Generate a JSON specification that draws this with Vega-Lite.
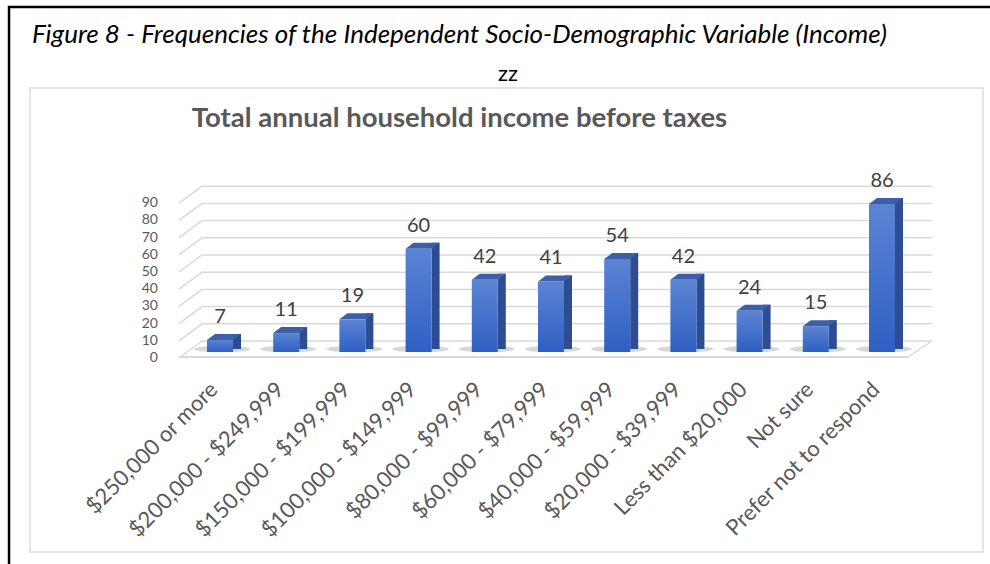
{
  "$schema": "https://vega.github.io/schema/vega-lite/v6.json",
  "width": 981,
  "height": 557,
  "autosize": {"type": "none"},
  "padding": {"left": 9, "top": 7, "right": 0, "bottom": 0},
  "background": "white",
  "view": {"stroke": null, "fill": "white"},
  "config": {"font": "Lato"},
  "title": {
    "text": "Total annual household income before taxes",
    "anchor": "middle",
    "frame": "group",
    "offset": -127,
    "dx": -40,
    "font": "Lato",
    "fontSize": 27.5,
    "fontWeight": "bold",
    "color": "#595959"
  },
  "datasets": {
    "income": [
      {"income": "$250,000 or more", "rank": 0, "count": 7},
      {"income": "$200,000 - $249,999", "rank": 1, "count": 11},
      {"income": "$150,000 - $199,999", "rank": 2, "count": 19},
      {"income": "$100,000 - $149,999", "rank": 3, "count": 60},
      {"income": "$80,000 - $99,999", "rank": 4, "count": 42},
      {"income": "$60,000 - $79,999", "rank": 5, "count": 41},
      {"income": "$40,000 - $59,999", "rank": 6, "count": 54},
      {"income": "$20,000 - $39,999", "rank": 7, "count": 42},
      {"income": "Less than $20,000", "rank": 8, "count": 24},
      {"income": "Not sure", "rank": 9, "count": 15},
      {"income": "Prefer not to respond", "rank": 10, "count": 86}
    ],
    "ticks": [{"v": 0}, {"v": 10}, {"v": 20}, {"v": 30}, {"v": 40}, {"v": 50}, {"v": 60}, {"v": 70}, {"v": 80}, {"v": 90}],
    "notes": [{"caption": "Figure 8 - Frequencies of the Independent Socio-Demographic Variable (Income)", "sub": "zz"}]
  },
  "layer": [
    {
      "data": {"name": "notes"},
      "mark": {"type": "rect", "fillOpacity": 0, "stroke": "black", "strokeWidth": 2.5},
      "encoding": {
        "x": {"datum": -3.187, "type": "quantitative", "scale": {"domain": [0, 10], "range": [211, 873], "nice": false, "zero": false, "padding": 0}, "axis": null},
        "x2": {"datum": 20},
        "y": {"datum": 200.58, "type": "quantitative", "scale": {"domain": [0, 90], "range": [345, 190.2], "nice": false, "zero": false, "padding": 0}, "axis": null},
        "y2": {"datum": -200}
      }
    },
    {
      "data": {"name": "notes"},
      "mark": {"type": "rect", "fillOpacity": 0, "stroke": "#d9d9d9", "strokeWidth": 1.3},
      "encoding": {
        "x": {"datum": -2.87, "type": "quantitative", "axis": null},
        "x2": {"datum": 11.526},
        "y": {"datum": 153.49, "type": "quantitative", "axis": null},
        "y2": {"datum": -116.28}
      }
    },
    {
      "data": {"name": "ticks"},
      "mark": {"type": "rule", "stroke": "#d9d9d9", "strokeWidth": 1.5, "yOffset": -11},
      "encoding": {
        "x": {"datum": -0.272, "type": "quantitative", "axis": null},
        "x2": {"datum": 10.755},
        "y": {"field": "v", "type": "quantitative", "axis": null}
      }
    },
    {
      "data": {"name": "ticks"},
      "mark": {"type": "rule", "stroke": "#d9d9d9", "strokeWidth": 1.5, "yOffset": -11, "y2Offset": 6},
      "encoding": {
        "x": {"datum": -0.272, "type": "quantitative", "axis": null},
        "x2": {"datum": -0.619},
        "y": {"field": "v", "type": "quantitative", "axis": null},
        "y2": {"field": "v"}
      }
    },
    {
      "data": {"name": "notes"},
      "mark": {"type": "rule", "stroke": "#d9d9d9", "strokeWidth": 1.8, "yOffset": 5},
      "encoding": {
        "x": {"datum": -0.619, "type": "quantitative", "axis": null},
        "x2": {"datum": 10.393},
        "y": {"datum": 0, "type": "quantitative", "axis": null}
      }
    },
    {
      "data": {"name": "notes"},
      "mark": {"type": "rule", "stroke": "#d9d9d9", "strokeWidth": 1.5, "yOffset": 5, "y2Offset": -11},
      "encoding": {
        "x": {"datum": 10.393, "type": "quantitative", "axis": null},
        "x2": {"datum": 10.755},
        "y": {"datum": 0, "type": "quantitative", "axis": null},
        "y2": {"datum": 0}
      }
    },
    {
      "data": {"name": "ticks"},
      "mark": {"type": "text", "align": "right", "baseline": "middle", "yOffset": 6, "fontSize": 14, "font": "Lato", "fill": "#595959"},
      "encoding": {
        "x": {"datum": -0.9366, "type": "quantitative", "axis": null},
        "y": {"field": "v", "type": "quantitative", "axis": null},
        "text": {"field": "v", "type": "quantitative"}
      }
    },
    {
      "data": {"name": "income"},
      "mark": {"type": "point", "filled": true, "shape": "M -1 0 A 1 0.12 0 1 0 1 0 A 1 0.12 0 1 0 -1 0 Z", "size": 3136, "fill": "#7a7a7a", "opacity": 0.3, "strokeWidth": 0, "xOffset": 2, "yOffset": -3},
      "encoding": {
        "x": {"field": "rank", "type": "quantitative", "axis": null},
        "y": {"datum": 0, "type": "quantitative", "axis": null}
      }
    },
    {
      "data": {"name": "income"},
      "mark": {"type": "bar", "width": 8, "xOffset": 17, "yOffset": -6, "y2Offset": -3, "fill": "#2c4d93"},
      "encoding": {
        "x": {"field": "rank", "type": "quantitative", "axis": null},
        "y": {"field": "count", "type": "quantitative", "axis": null},
        "y2": {"datum": 0}
      }
    },
    {
      "data": {"name": "income"},
      "mark": {"type": "point", "filled": true, "shape": "M -1 0.1765 L 0.5294 0.1765 L 1 -0.1765 L -0.5294 -0.1765 Z", "size": 1156, "fill": "#3d5fa9", "opacity": 1, "strokeWidth": 0, "xOffset": 4, "yOffset": -3},
      "encoding": {
        "x": {"field": "rank", "type": "quantitative", "axis": null},
        "y": {"field": "count", "type": "quantitative", "axis": null}
      }
    },
    {
      "data": {"name": "income"},
      "mark": {
        "type": "bar",
        "width": 26,
        "fill": {"gradient": "linear", "x1": 0, "y1": 0, "x2": 0, "y2": 1, "stops": [{"offset": 0, "color": "#5b84d3"}, {"offset": 1, "color": "#2f5fc2"}]}
      },
      "encoding": {
        "x": {"field": "rank", "type": "quantitative", "axis": null},
        "y": {"field": "count", "type": "quantitative", "axis": null},
        "y2": {"datum": 0}
      }
    },
    {
      "data": {"name": "income"},
      "mark": {"type": "text", "baseline": "alphabetic", "align": "center", "yOffset": -17, "fontSize": 20, "font": "Lato", "fill": "#404040"},
      "encoding": {
        "x": {"field": "rank", "type": "quantitative", "axis": null},
        "y": {"field": "count", "type": "quantitative", "axis": null},
        "text": {"field": "count", "type": "quantitative"}
      }
    },
    {
      "data": {"name": "income"},
      "mark": {"type": "text", "angle": -45, "align": "right", "baseline": "top", "xOffset": -13, "yOffset": 27, "fontSize": 22, "font": "Lato", "fill": "#595959"},
      "encoding": {
        "x": {"field": "rank", "type": "quantitative", "axis": null},
        "y": {"datum": 0, "type": "quantitative", "axis": null},
        "text": {"field": "income", "type": "nominal"}
      }
    },
    {
      "data": {"name": "notes"},
      "mark": {"type": "text", "align": "left", "baseline": "alphabetic", "fontStyle": "italic", "fontSize": 26, "font": "Lato", "fill": "black"},
      "encoding": {
        "x": {"datum": -2.84, "type": "quantitative", "axis": null},
        "y": {"datum": 179.65, "type": "quantitative", "axis": null},
        "text": {"field": "caption", "type": "nominal"}
      }
    },
    {
      "data": {"name": "notes"},
      "mark": {"type": "text", "align": "center", "baseline": "alphabetic", "fontSize": 22, "font": "Lato", "fill": "black"},
      "encoding": {
        "x": {"datum": 4.35, "type": "quantitative", "axis": null},
        "y": {"datum": 157.56, "type": "quantitative", "axis": null},
        "text": {"field": "sub", "type": "nominal"}
      }
    }
  ]
}
